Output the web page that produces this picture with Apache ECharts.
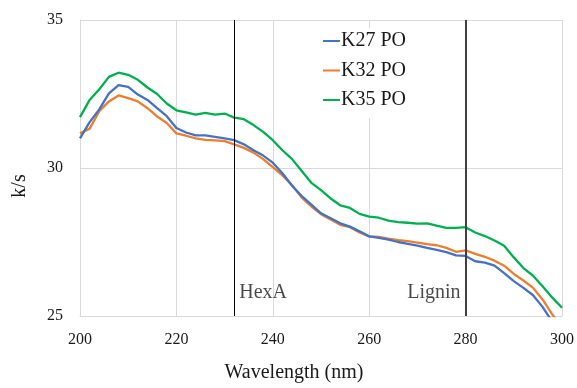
<!DOCTYPE html>
<html>
<head>
<meta charset="utf-8">
<script src="https://cdn.jsdelivr.net/npm/echarts@6/dist/echarts.min.js"></script>
<style>
html,body{margin:0;padding:0;background:#fff;}
#chart{width:577px;height:388px;}
</style>
</head>
<body>
<div id="chart"></div>
<script>
const wavelengths = [200,202,204,206,208,210,212,214,216,218,220,222,224,226,228,230,232,234,236,238,240,242,244,246,248,250,252,254,256,258,260,262,264,266,268,270,272,274,276,278,280,282,284,286,288,290,292,294,296,298,300];
const k27 = [31.0,31.55,31.98,32.52,32.8,32.74,32.48,32.3,32.02,31.75,31.35,31.2,31.1,31.1,31.05,31.0,30.94,30.8,30.6,30.42,30.18,29.82,29.4,29.05,28.76,28.47,28.3,28.13,28.02,27.86,27.69,27.64,27.58,27.5,27.44,27.38,27.3,27.23,27.16,27.05,27.03,26.85,26.8,26.7,26.45,26.18,25.95,25.7,25.3,24.8,24.4];
const k32 = [31.17,31.33,31.92,32.25,32.45,32.36,32.25,32.02,31.74,31.52,31.17,31.09,31.0,30.95,30.93,30.91,30.8,30.68,30.52,30.3,30.03,29.75,29.42,29.0,28.7,28.44,28.26,28.08,28.0,27.82,27.69,27.67,27.61,27.56,27.53,27.48,27.43,27.39,27.3,27.17,27.22,27.1,27.0,26.87,26.7,26.42,26.2,25.95,25.55,25.05,24.6];
const k35 = [31.72,32.3,32.66,33.08,33.22,33.15,32.98,32.72,32.5,32.18,31.95,31.88,31.8,31.86,31.8,31.84,31.7,31.65,31.45,31.22,30.94,30.6,30.3,29.9,29.5,29.25,28.97,28.74,28.65,28.45,28.36,28.32,28.22,28.17,28.15,28.12,28.13,28.05,27.98,27.98,28.0,27.82,27.7,27.55,27.37,26.98,26.62,26.36,26.0,25.62,25.28];
const seriesNames = ['K27 PO','K32 PO','K35 PO'];
const markers = [232, 280];
const markerLabels = ['HexA','Lignin'];
const markerLabelY = 25.77;
const xTicks = [200,220,240,260,280,300];
const yTicks = [25,30,35];

const FONT = 'Liberation Serif';
const TXT = '#1a1a1a';
const colors = ['#4472C4','#ED7D31','#00B050'];

function pairs(vals){ return wavelengths.map((w,i)=>[w, vals[i]]); }

const chart = echarts.init(document.getElementById('chart'));
chart.setOption({
  animation:false,
  backgroundColor:'#fff',
  grid:{left:80,right:14,top:20,bottom:68,containLabel:false},
  legend:{
    orient:'vertical', left:319, top:28,
    data:seriesNames,
    icon:'rect', itemWidth:17, itemHeight:2, itemGap:9.5,
    backgroundColor:'#fff',
    padding:[3,4,8,4],
    textStyle:{fontFamily:FONT,fontSize:20,color:TXT,lineHeight:20,padding:[0,0,0,-4]}
  },
  xAxis:{
    type:'value', min:xTicks[0], max:xTicks[xTicks.length-1], interval:20,
    name:'Wavelength (nm)', nameLocation:'middle', nameGap:47,
    nameTextStyle:{fontFamily:FONT,fontSize:20,color:TXT,padding:[0,54,0,0]},
    axisLine:{show:true,lineStyle:{color:'#d9d9d9',width:1}},
    axisTick:{show:false},
    axisLabel:{fontFamily:FONT,fontSize:16,color:TXT,margin:16},
    splitLine:{show:true,lineStyle:{color:'#d9d9d9',width:1}}
  },
  yAxis:{
    type:'value', min:yTicks[0], max:yTicks[yTicks.length-1], interval:5,
    name:'k/s', nameLocation:'middle', nameGap:50, nameRotate:90,
    nameTextStyle:{fontFamily:FONT,fontSize:20,color:TXT,padding:[0,36,0,0]},
    axisLine:{show:true,lineStyle:{color:'#d9d9d9',width:1}},
    axisTick:{show:false},
    axisLabel:{fontFamily:FONT,fontSize:16,color:TXT,margin:17},
    splitLine:{show:true,lineStyle:{color:'#d9d9d9',width:1}}
  },
  series:[
    {name:seriesNames[0],type:'line',data:pairs(k27),showSymbol:false,symbol:'none',lineStyle:{color:colors[0],width:2.3},itemStyle:{color:colors[0]},z:3},
    {name:seriesNames[1],type:'line',data:pairs(k32),showSymbol:false,symbol:'none',lineStyle:{color:colors[1],width:2.3},itemStyle:{color:colors[1]},z:2},
    {name:seriesNames[2],type:'line',data:pairs(k35),showSymbol:false,symbol:'none',lineStyle:{color:colors[2],width:2.3},itemStyle:{color:colors[2]},z:4},
    {
      name:'markers', type:'scatter', symbolSize:0, silent:true, z:5,
      data:[
        {value:[markers[0],markerLabelY],label:{show:true,position:'right',distance:5,formatter:markerLabels[0],fontFamily:FONT,fontSize:20,color:TXT}},
        {value:[markers[1],markerLabelY],label:{show:true,position:'left',distance:5,formatter:markerLabels[1],fontFamily:FONT,fontSize:20,color:TXT}}
      ],
      markLine:{
        silent:true, symbol:['none','none'], label:{show:false},
        data:[
          {xAxis:markers[0],lineStyle:{color:'#000',width:1,type:'solid'}},
          {xAxis:markers[1],lineStyle:{color:'#404040',width:2,type:'solid'}}
        ]
      }
    }
  ]
});
</script>
</body>
</html>
